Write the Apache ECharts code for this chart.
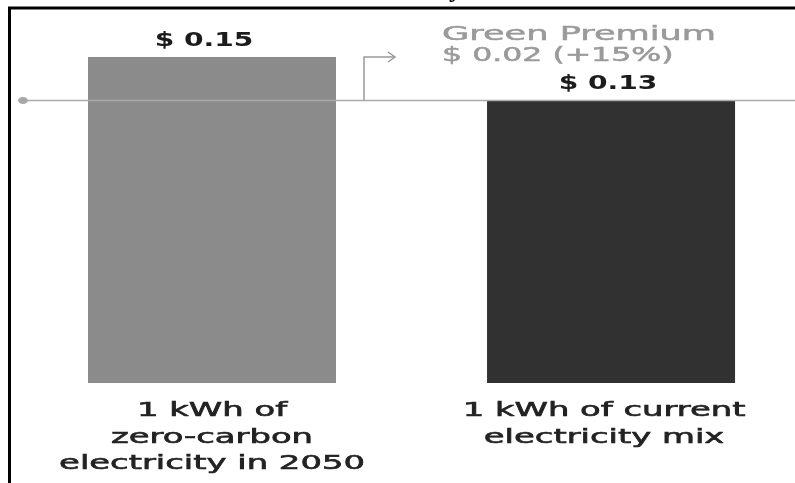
<!DOCTYPE html>
<html><head><meta charset="utf-8">
<script src="https://cdn.jsdelivr.net/npm/echarts@6/dist/echarts.min.js"></script>
<style>html,body{margin:0;padding:0;background:#fff}#c{width:795px;height:483px}</style>
</head><body><div id="c"></div>
<script>
// ---- data ----
const categories = ['1 kWh of\nzero-carbon\nelectricity in 2050', '1 kWh of current\nelectricity mix'];
const costs = [0.15, 0.13];
const costLabels = ['$ 0.15', '$ 0.13'];
const premiumTitle = 'Green Premium';
const premiumValue = '$ 0.02 (+15%)';
const baselineValue = 0.13;
const chartTitle = 'Electricity';

// ---- styles ----
const barColors = ['#8b8b8b', '#313131'];
const FONT = '"DejaVu Sans", sans-serif';
const labelShift = [-8, -3];
const catShift = [0, -7];

const chart = echarts.init(document.getElementById('c'), null, {renderer: 'canvas'});
chart.setOption({
  animation: false,
  grid: {left: 12.5, top: 57, right: 0, bottom: 100},
  xAxis: {type: 'value', min: -0.5, max: 1.461, show: false},
  yAxis: {type: 'value', min: 0, max: 0.15, show: false},
  series: [{
    type: 'bar',
    barWidth: 248,
    data: costs.map((v, i) => ({value: [i, v], name: categories[i], itemStyle: {color: barColors[i]}}))
  }]
});

const px = (i, v) => chart.convertToPixel({seriesIndex: 0}, [i, v]);
const half = 124;
const els = [];

// baseline (current electricity mix cost level)
const baseY = px(0, baselineValue)[1];
els.push({type: 'line', z: 50, shape: {x1: 22, y1: baseY, x2: 795, y2: baseY},
  style: {stroke: '#ababab', lineWidth: 1.5}});
els.push({type: 'ellipse', z: 51, shape: {cx: 23, cy: baseY, rx: 5, ry: 3.5},
  style: {fill: '#a8a8a8'}});

// value labels above bars and category labels below
costs.forEach((v, i) => {
  const p = px(i, v);
  els.push({type: 'text', z: 60, x: p[0] + labelShift[i], y: p[1] - 16, scaleX: 1.48,
    style: {text: costLabels[i], fill: '#1c1c1c', font: 'bold 19px ' + FONT,
      textAlign: 'center', textVerticalAlign: 'middle'}});
  const b = px(i, 0);
  els.push({type: 'text', z: 60, x: b[0] + catShift[i], y: b[1] + 15, scaleX: 1.78,
    style: {text: categories[i], fill: '#222', font: '19px ' + FONT,
      stroke: '#222', lineWidth: 0.6,
      textAlign: 'center', textVerticalAlign: 'top', lineHeight: 26.5}});
});

// green premium arrow & text
const topL = px(0, costs[0]);
const ax = topL[0] + half + 28;
const ay = topL[1];
els.push({type: 'polyline', z: 55, shape: {points: [[ax, baseY], [ax, ay], [ax + 31, ay]]},
  style: {stroke: '#9a9a9a', lineWidth: 1.5, fill: null}});
els.push({type: 'polyline', z: 55, shape: {points: [[ax + 24, ay - 5], [ax + 31, ay], [ax + 24, ay + 5]]},
  style: {stroke: '#9a9a9a', lineWidth: 1.5, fill: null}});
const rightL = px(1, 0)[0] - half;
els.push({type: 'text', z: 60, x: rightL - 45, y: ay - 22, scaleX: 1.85,
  style: {text: premiumTitle, fill: '#9a9a9a', font: '19px ' + FONT,
    stroke: '#9a9a9a', lineWidth: 0.5,
    textAlign: 'left', textVerticalAlign: 'middle'}});
els.push({type: 'text', z: 60, x: rightL - 45, y: ay - 1, scaleX: 1.66,
  style: {text: premiumValue, fill: '#9a9a9a', font: '19px ' + FONT,
    stroke: '#9a9a9a', lineWidth: 0.5,
    textAlign: 'left', textVerticalAlign: 'middle'}});

// clipped title and frame
els.push({type: 'text', z: 40, x: 462, y: 3,
  style: {text: chartTitle, fill: '#000', font: 'bold 26px "Liberation Serif", serif',
    textAlign: 'right', textVerticalAlign: 'bottom'}});
els.push({type: 'line', z: 71, shape: {x1: 8, y1: 8, x2: 795, y2: 8}, style: {stroke: '#000', lineWidth: 3}});
els.push({type: 'line', z: 71, shape: {x1: 9.5, y1: 7, x2: 9.5, y2: 483}, style: {stroke: '#000', lineWidth: 3}});

chart.setOption({graphic: {elements: els}});
</script>
</body></html>
